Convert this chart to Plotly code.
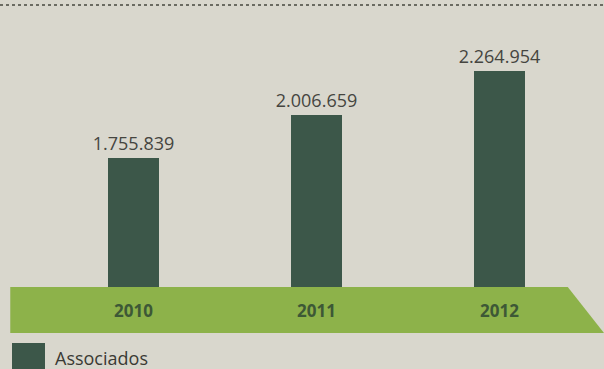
import plotly.graph_objects as go

# Data
years = ["2010", "2011", "2012"]
associados = [1755839, 2006659, 2264954]
series_name = "Associados"

bar_color = "#3c5749"
band_color = "#8db24a"
bg_color = "#d9d7cd"

x_pos = list(range(len(years)))

fig = go.Figure()
fig.add_trace(go.Bar(
    x=x_pos,
    y=associados,
    width=0.278,
    marker=dict(color=bar_color, line=dict(width=0)),
    texttemplate="%{y:,d}",
    textposition="outside",
    constraintext="none",
    textfont=dict(family="Open Sans", size=18, color="#45453f"),
    cliponaxis=False,
    name=series_name,
    showlegend=False,
))

# Green timeline band beneath the bars
band_h = 46 / 287
fig.add_shape(
    type="path",
    xref="paper", yref="paper",
    path=f"M 0.017 0 L 0.940 0 L 1.0 {-band_h} L 0.017 {-band_h} Z",
    fillcolor=band_color, line=dict(width=0), layer="above",
)

# Year labels on the band
for xp, yr in zip(x_pos, years):
    fig.add_annotation(
        x=xp, y=-band_h / 2, xref="x", yref="paper",
        text=f"<b>{yr}</b>", showarrow=False,
        xanchor="center", yanchor="middle",
        font=dict(family="Open Sans", size=17, color="#3d5836"),
    )

# Dotted rule along the top
fig.add_shape(
    type="line", xref="paper", yref="paper",
    x0=0, x1=1, y0=(287 - 5) / 287, y1=(287 - 5) / 287,
    line=dict(color="#6b6b62", width=2, dash="dot"),
)

# Legend swatch and label
fig.add_shape(
    type="rect", xref="paper", yref="paper",
    x0=12 / 604, x1=45 / 604, y0=-(369 - 287) / 287, y1=-(343 - 287) / 287,
    fillcolor=bar_color, line=dict(width=0),
)
fig.add_annotation(
    x=53 / 604, y=-(358 - 287) / 287, xref="paper", yref="paper",
    text=series_name, showarrow=False, xanchor="left", yanchor="middle",
    font=dict(family="Open Sans", size=18, color="#3a3a34"),
)

fig.update_layout(
    width=604, height=369,
    margin=dict(l=0, r=0, t=0, b=82),
    paper_bgcolor=bg_color,
    plot_bgcolor=bg_color,
    separators=",.",
    xaxis=dict(range=[-0.725, 2.567], visible=False, fixedrange=True),
    yaxis=dict(range=[1.0e6, 2.68e6], visible=False, fixedrange=True),
    bargap=0,
)

fig.write_html("out.html")
